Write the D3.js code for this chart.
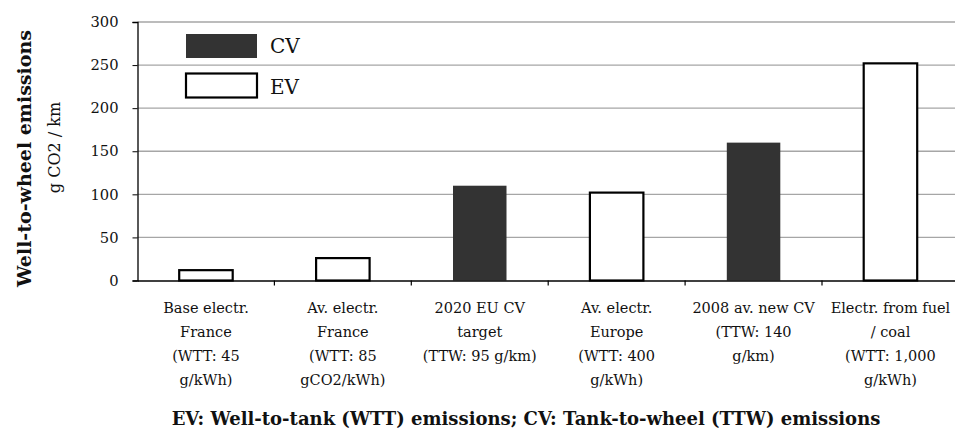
<!DOCTYPE html>
<html><head><meta charset="utf-8">
<script src="https://cdn.jsdelivr.net/npm/d3@7"></script>
<style>
html,body{margin:0;padding:0;background:#fff;}
svg{display:block;}
text{font-family:"DejaVu Serif",serif;fill:#111;}
</style></head>
<body>
<svg id="chart" width="955" height="434"></svg>
<script>
const categories = ["c1","c2","c3","c4","c5","c6"];
const categoryLabels = [
  ["Base electr.","France","(WTT: 45","g/kWh)"],
  ["Av. electr.","France","(WTT: 85","gCO2/kWh)"],
  ["2020 EU CV","target","(TTW: 95 g/km)"],
  ["Av. electr.","Europe","(WTT: 400","g/kWh)"],
  ["2008 av. new CV","(TTW: 140","g/km)"],
  ["Electr. from fuel","/ coal","(WTT: 1,000","g/kWh)"]
];
const values = [12, 26, 110, 102, 160, 252];
const types = ["EV","EV","CV","EV","CV","EV"];
const yTicks = [0, 50, 100, 150, 200, 250, 300];
const legendItems = ["CV","EV"];

const svg = d3.select("#chart");
const x0 = 137.5, bandW = 136.9;
const x = d3.scaleBand().domain(categories).range([x0, x0 + bandW*6]).padding(0);
const y = d3.scaleLinear().domain([0, 300]).range([280.5, 22]);

const fillFor = t => t === "CV" ? "#333333" : "#ffffff";

// gridlines
svg.append("g").selectAll("line").data(yTicks.filter(d => d > 0)).join("line")
  .attr("x1", x0).attr("x2", 955)
  .attr("y1", d => y(d)).attr("y2", d => y(d))
  .attr("stroke", "#a6a6a6").attr("stroke-width", 1.3);

// bars
const bw = 53.5;
svg.append("g").selectAll("rect").data(categories).join("rect")
  .attr("x", (d,i) => x(d) + (x.bandwidth() - bw)/2)
  .attr("y", (d,i) => y(values[i]))
  .attr("width", bw)
  .attr("height", (d,i) => y(0) - y(values[i]))
  .attr("fill", (d,i) => fillFor(types[i]))
  .attr("stroke", (d,i) => types[i] === "EV" ? "#000" : "none")
  .attr("stroke-width", 2.2);

// y axis
const yAxis = d3.axisLeft(y).tickValues(yTicks).tickSize(5).tickPadding(14);
const gy = svg.append("g").attr("transform", `translate(${x0},0)`).call(yAxis);
gy.select(".domain").attr("stroke", "#000").attr("stroke-width", 1.3);
gy.selectAll(".tick line").attr("stroke", "#000");
gy.selectAll("text").style("font-family", "DejaVu Serif").style("font-size", "14.7px").attr("fill", "#111");

// x axis
const xAxis = d3.axisBottom(x).tickSize(0).tickFormat("");
const gx = svg.append("g").attr("transform", `translate(0,${y(0)})`).call(xAxis);
gx.select(".domain").attr("stroke", "#000").attr("stroke-width", 1.5);
// tick marks between categories
svg.append("g").selectAll("line").data(categories.slice(1)).join("line")
  .attr("x1", d => x(d)).attr("x2", d => x(d))
  .attr("y1", y(0)).attr("y2", y(0) + 5)
  .attr("stroke", "#000").attr("stroke-width", 1.2);

// category labels
const lbl = svg.append("g");
categories.forEach((c, i) => {
  const t = lbl.append("text")
    .attr("text-anchor", "middle")
    .attr("font-size", 14.5)
    .attr("transform", `translate(${x(c) + x.bandwidth()/2},0)`);
  categoryLabels[i].forEach((line, j) => {
    t.append("tspan").attr("x", 0).attr("y", 312.5 + j*24.3).text(line);
  });
});

// legend
const leg = svg.append("g");
legendItems.forEach((k, i) => {
  leg.append("rect")
    .attr("x", 186).attr("y", 34 + i*39.5)
    .attr("width", 71).attr("height", 24)
    .attr("fill", fillFor(k))
    .attr("stroke", k === "EV" ? "#000" : "none")
    .attr("stroke-width", 2.2);
  leg.append("text").attr("x", 270).attr("y", 52.7 + i*41.6)
    .attr("font-size", 20).text(k);
});

// y titles
svg.append("text")
  .attr("transform", "translate(31,158.5) rotate(-90)")
  .attr("text-anchor", "middle")
  .attr("font-size", 19).attr("font-weight", "bold")
  .text("Well-to-wheel emissions");
svg.append("text")
  .attr("transform", "translate(60,147.5) rotate(-90)")
  .attr("text-anchor", "middle")
  .attr("font-size", 16)
  .text("g CO2 / km");

// bottom title
svg.append("text")
  .attr("x", 526).attr("y", 425)
  .attr("text-anchor", "middle")
  .attr("font-size", 18).attr("font-weight", "bold")
  .text("EV: Well-to-tank (WTT) emissions; CV: Tank-to-wheel (TTW) emissions");
</script>
</body></html>
